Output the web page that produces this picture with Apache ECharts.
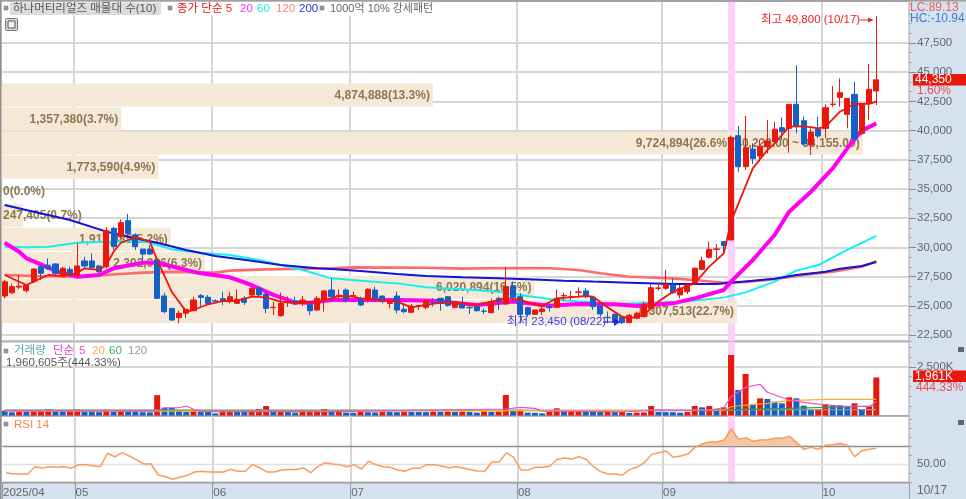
<!DOCTYPE html>
<html><head><meta charset="utf-8">
<style>html,body{margin:0;padding:0;background:#fff}#c{width:966px;height:499px}</style>
<script src="https://cdn.jsdelivr.net/npm/echarts@6/dist/echarts.min.js"></script>
</head><body><div id="c"></div>
<script>
const dates=['04/17','04/18','04/21','04/22','04/23','04/24','04/25','04/28','04/29','04/30',
'05/02','05/07','05/08','05/09','05/12','05/13','05/14','05/15','05/16','05/19','05/20','05/21','05/22','05/23','05/26','05/27','05/28','05/29','05/30',
'06/02','06/04','06/05','06/09','06/10','06/11','06/12','06/13','06/16','06/17','06/18','06/19','06/20','06/23','06/24','06/25','06/26','06/27','06/30',
'07/01','07/02','07/03','07/04','07/07','07/08','07/09','07/10','07/11','07/14','07/15','07/16','07/17','07/18','07/21','07/22','07/23','07/24','07/25','07/28','07/29','07/30','07/31',
'08/01','08/04','08/05','08/06','08/07','08/08','08/11','08/12','08/13','08/14','08/18','08/19','08/20','08/21','08/22','08/25','08/26','08/27','08/28','08/29',
'09/01','09/02','09/03','09/04','09/05','09/08','09/09','09/10','09/11','09/12','09/15','09/16','09/17','09/18','09/19','09/22','09/23','09/24','09/25','09/26','09/29','09/30',
'10/01','10/02','10/10','10/13','10/14','10/15','10/16','10/17','','','',''];
const monthLabels={0:'2025/04',10:'05',29:'06',48:'07',71:'08',91:'09',113:'10'};
const opens=[25840,26120,26600,26300,27070,28350,28470,28580,27500,28120,27610,28840,28840,28410,28350,31630,30920,32290,31060,29860,29860,28920,25840,24780,23990,24360,24580,25870,25730,25440,25610,25360,25210,25640,25930,26500,26010,24840,24160,25300,25410,25210,25130,24640,25500,26350,25880,26350,25840,25640,25560,26350,25840,25200,25840,24700,24440,24980,24870,25280,25640,25780,24870,25210,24850,24930,24540,24410,25640,25160,26700,25780,24840,24270,24500,24950,24870,25850,25720,26150,26270,25730,24980,24010,24270,24070,23560,23930,24070,24780,26490,26500,26780,25930,26210,26920,28120,29150,29830,30490,30630,39560,36910,38420,37820,38620,39050,40250,40190,42250,40850,38770,40110,40190,42230,42850,41390,43100,39760,42330,43390];
const closes=[27060,26640,26680,26780,28150,27780,28180,27780,28210,27610,28410,28410,28290,27920,31430,30060,32120,31200,30060,29430,29430,25640,24500,23780,24360,24700,25500,25720,25210,25400,25410,25780,25560,25300,26500,25930,24780,24880,25210,25360,25150,25500,24580,25640,26270,25780,25900,25500,25880,25070,26410,25640,25360,25300,24640,24500,24980,25020,25440,25250,25210,25040,25210,24810,24830,24580,24520,25360,25360,26640,25730,24270,24270,24640,24730,24840,25640,25880,25760,26190,25840,24930,24300,23980,23560,23560,24190,24360,25070,26550,26530,26840,26120,26500,26780,28210,28860,29830,29870,30150,39420,36910,38540,37600,38620,39110,40110,39910,42250,40340,38850,39880,39540,41960,42270,43240,42760,39340,42250,43530,44350];
const lows=[25640,26000,26410,26130,26920,27210,28060,27550,27440,27490,27350,28290,28070,27780,28210,29780,30770,31060,29780,28920,29350,25550,24360,23730,23500,23930,24580,24930,25070,25300,25070,25210,25150,25070,25840,25780,24360,24210,24070,24900,25070,24980,24210,24580,24500,25360,25360,25270,25780,24980,25270,25360,25210,24780,24360,24360,24410,24640,24700,24930,24590,24930,24780,24780,24300,24500,24300,24360,24640,25070,25440,23500,24070,24210,24210,24500,24870,25440,25500,25640,25640,24640,24070,23500,23500,23450,23500,23850,24010,24640,26300,26350,26010,25640,26010,26870,28060,29060,29010,29350,30630,36480,36620,37140,37340,38050,38910,39190,38110,39760,38740,37910,39340,39340,42050,42050,40190,39190,39620,40900,42190];
const highs=[27200,26900,27640,26780,28210,28490,29060,28640,28350,28350,30350,29200,29490,28490,31720,31780,32400,32860,31200,29860,30200,29200,26120,24780,24590,24700,25780,26010,25930,25560,26210,26210,26410,25840,26640,26640,26210,25360,26120,25800,25780,25840,25360,25840,26350,27350,26410,26500,26210,25780,26500,26640,25840,25500,26210,25210,25160,25070,25550,25640,25640,25840,25360,25780,25070,25210,24780,25640,25780,28290,27070,26070,24930,24640,25070,25210,26410,26120,26270,26580,26500,25840,25070,24500,24360,24180,24300,24500,25360,26870,26980,28070,27350,26780,26920,28300,29200,30490,30290,30550,39560,40390,41250,38910,39190,40900,40760,41130,42250,45580,41190,40190,41190,42250,43820,44470,42760,44190,42250,45700,49800];
const ma5=[[0,27640],[3,26780],[6,27640],[8,27550],[10,27800],[11,28210],[13,28070],[14,28490],[15,29630],[16,30400],[18,30860],[20,30490],[21,28920],[23,26210],[25,24500],[26,24640],[28,25130],[30,25410],[32,25410],[34,25780],[36,25720],[38,25360],[40,25210],[43,25360],[45,25640],[46,25840],[48,25780],[49,25640],[54,25360],[56,24870],[58,25070],[61,25360],[65,25070],[69,25640],[71,25550],[72,25270],[74,24980],[76,25640],[79,25780],[80,25840],[81,25780],[83,24870],[85,24070],[86,23930],[88,24210],[90,25360],[92,26210],[95,26920],[97,28350],[99,29490],[100,32200],[103,36770],[105,38340],[106,38910],[108,40340],[110,40390],[112,40190],[113,40340],[115,41620],[117,42280],[119,42280],[120,42480]];
const ma20=[[0,30400],[2,29630],[3,29060],[5,28550],[7,27980],[10,27490],[13,27640],[15,28210],[19,28690],[21,28690],[24,28210],[27,27780],[31,27440],[34,26780],[37,25930],[40,25300],[42,25270],[45,25500],[54,25500],[59,25440],[65,25070],[70,25360],[75,25010],[79,25160],[84,25130],[87,24980],[92,25210],[95,25640],[99,26350],[100,27070],[103,28920],[106,31060],[108,33060],[111,34770],[114,36770],[116,38480],[118,40000],[120,40620]];
const ma60=[[0,30060],[3,30010],[6,30060],[10,30400],[14,30490],[18,30550],[20,30400],[23,29830],[27,29550],[31,29350],[35,28920],[38,28500],[41,28070],[45,27350],[49,27150],[54,26920],[58,26580],[63,26410],[68,26210],[72,25840],[75,25580],[79,25360],[84,25160],[87,25210],[93,25330],[99,25700],[102,26150],[106,27070],[109,28010],[112,28490],[116,29780],[120,30980]];
const ma120=[[0,27640],[4,27550],[10,27490],[14,27640],[19,27840],[23,27920],[29,27840],[31,28010],[36,28120],[45,28210],[48,28290],[58,28260],[63,28180],[69,28240],[75,28210],[79,28070],[82,27780],[86,27490],[88,27440],[92,27350],[96,27150],[99,26980],[102,27040],[106,27270],[110,27640],[114,27920],[118,28350],[120,28810]];
const ma200=[[0,33630],[4,33060],[9,32350],[14,31350],[18,30780],[21,30400],[25,29780],[29,29260],[34,28860],[38,28490],[43,28210],[45,28150],[49,27980],[54,27720],[58,27550],[63,27440],[68,27350],[72,27270],[77,27150],[81,27070],[86,26980],[92,26870],[98,26870],[100,26980],[106,27320],[109,27640],[113,27920],[115,28180],[118,28410],[120,28750]];
const volume=[250,165,230,200,240,245,320,220,210,235,310,200,190,170,300,190,230,210,205,170,160,1050,400,395,250,180,240,200,180,110,215,220,210,205,250,335,490,215,220,210,150,215,220,225,335,230,235,150,145,210,170,160,200,190,170,205,185,180,175,200,190,205,190,200,190,150,210,190,205,1057,290,300,150,140,110,180,370,210,220,225,215,200,190,215,195,200,130,150,160,490,180,175,170,145,180,490,420,490,335,420,3118,1314,2139,540,885,850,713,627,936,885,507,300,318,576,524,520,455,627,335,455,1961];
const volMa5=[[0,240],[21,230],[22,400],[24,400],[25,490],[26,320],[27,200],[45,200],[69,335],[71,420],[73,370],[74,230],[80,215],[85,180],[90,285],[93,265],[97,280],[99,400],[100,970],[102,1450],[104,1610],[105,1200],[107,930],[108,800],[111,630],[115,490],[119,455],[120,710]];
const volMa20=[[0,230],[45,230],[99,280],[100,450],[102,540],[105,630],[108,770],[113,830],[120,830]];
const volMa60=[[0,265],[50,265],[90,255],[99,260],[102,315],[108,370],[120,490]];
const volMa120=[[0,275],[90,270],[120,300]];
const rsi=[40.4,38.9,38.9,38.9,47,45.6,47,46.3,47,45.2,49.3,49.3,48,47,61.9,58,62.6,58.9,54.5,50,50,37.8,35.9,33,35.2,37.4,41.1,41.9,41.1,41,41.1,44,41.9,41.9,49.6,45.6,41.1,41.1,43.3,44,44,45.6,40.4,47,51.5,50,49.3,47,49.3,44.4,53,49.3,47,46.3,43.3,41.9,45.2,45.2,49.3,49.3,47.8,45.9,47,45.6,44,42.2,41.9,52.2,52.2,62.6,57.4,43.3,43.3,46.3,46.3,47.8,55.2,56.7,55.6,58,55,47,41.5,38.9,38.9,37.8,44,46.3,51.5,60.7,62.6,64.4,57.4,58.9,61,68.5,72.2,74.4,74.4,76.7,88.9,77.4,79.3,75.2,76.7,77,78.5,78.5,81,73.7,66.3,68.5,66.3,70.7,71.5,73,70.7,58,64.8,66.3,67.4];
const profileEdges=[44040,41980,39920,37860,35800,33740,31680,29620,27560,25500,23450];
const profileVolumes=[4874888,1357380,9724894,1773590,0,247405,1916485,2302966,6020894,8307513];
const profilePercents=['13.3','3.7','26.6','4.9','0.0','0.7','5.2','6.3','16.5','22.7'];
const profileExtra=['','','(40,220.00 ~ 38,155.00)','','','','','','',''];
const priceTicks=[22500,25000,27500,30000,32500,35000,37500,40000,42500,45000,47500];
const priceMinorTicks=[23333,24167,25833,26667,28333,29167,30833,31667,33333,34167,35833,36667,38333,39167,40833,41667,43333,44167,45833,46667,48333,49167,50000,50833,22000];
const volMinorTicks=[500,1000,1500,2000,3000,3500];
const rsiMinorTicks=[30,40,60,70,80,90,100];
const highlightDay='09/12';
const monthStarts=[10,29,48,71,91,113];

const FONT="'Liberation Sans','Noto Sans CJK KR',sans-serif";
const UP='#e8190c',DOWN='#1560c8',GRID='#d6d6d6',AX='#999',LBL='#666',PANEL='#d6e1ef',BORDER='#a8a8a8';
const isMonth=i=>monthStarts.includes(i);
const candles=opens.map((o,i)=>[o,closes[i],lows[i],highs[i]]);
const volData=volume.map((v,i)=>({value:v,itemStyle:{color:(i>0&&v>=volume[i-1])?UP:DOWN}}));
const profileData=profileVolumes.map((v,i)=>[v,profileEdges[i],profileEdges[i+1],i]);
const monthEdges=monthStarts.map(i=>({xAxis:i-0.5}));

function xAx(idx,show){return {type:'category',gridIndex:idx,data:dates,boundaryGap:true,
  axisLine:{show:false,onZero:false},
  axisTick:{show:show,interval:(i)=>i===0||isMonth(i),length:16,lineStyle:{color:AX}},
  axisLabel:{show:show,interval:(i)=>i===0||isMonth(i),formatter:(v,i)=>monthLabels[i]||'',color:LBL,fontFamily:FONT,fontSize:11.5,align:'left',margin:4,padding:[0,0,0,-3]},
  splitLine:{show:false}};}
const bandAx=g=>({type:'value',gridIndex:g,min:-0.5,max:124.5,show:false,axisLine:{onZero:false},splitLine:{show:false}});
function rules(xi,yi,items){return {type:'line',xAxisIndex:xi,yAxisIndex:yi,data:[],silent:true,z:1,
  markLine:{silent:true,symbol:'none',z:1,animation:false,label:{show:false},lineStyle:{color:GRID,width:2,type:'solid'},data:items}};}
function hl(xi,yi){return {type:'line',xAxisIndex:xi,yAxisIndex:yi,data:[],silent:true,z:1,
  markLine:{silent:true,symbol:'none',z:1,animation:false,label:{show:false},lineStyle:{color:'#fcd0fb',width:7,type:'solid'},data:[{xAxis:highlightDay}]}};}
function ln(data,color,width,xi,yi,z){return {type:'line',xAxisIndex:xi,yAxisIndex:yi,data,showSymbol:false,symbol:'none',smooth:false,z:z||5,silent:true,lineStyle:{color,width},itemStyle:{color}};}
const txt=(x,y,s,fill,extra)=>({type:'text',z:100,x,y,style:Object.assign({text:s,fill,font:'11.5px '+FONT,textVerticalAlign:'middle'},extra||{})});
const sq=(x,y)=>({type:'rect',z:100,shape:{x,y,width:4,height:4},style:{fill:'#9a9a9a',stroke:'#777',lineWidth:0.5}});
const rect=(x,y,w,h,fill,z)=>({type:'rect',z:z||99,shape:{x,y,width:w,height:h},style:{fill}});
const pane=(y,h)=>({type:'rect',z:-1,silent:true,shape:{x:1,y,width:908,height:h},style:{fill:'#fff',stroke:BORDER,lineWidth:1}});

const option={
 animation:false,backgroundColor:PANEL,
 grid:[
  {left:1,width:908,top:2.12,height:338.72},
  {left:1,width:908,top:342,height:73.5},
  {left:1,width:908,top:416.3,height:66.6}
 ],
 xAxis:[xAx(0,false),xAx(1,false),xAx(2,true),
  {type:'value',gridIndex:0,min:0,max:10248000,show:false,axisLine:{onZero:false},splitLine:{show:false}},
  bandAx(0),bandAx(1),bandAx(2)],
 yAxis:[
  {type:'value',gridIndex:0,position:'right',min:22000,max:51000,
   axisLine:{show:false,onZero:false},
   axisTick:{show:true,customValues:priceTicks,length:7,lineStyle:{color:'#888'}},
   axisLabel:{show:true,customValues:priceTicks,formatter:v=>v.toLocaleString('en-US'),color:LBL,fontFamily:FONT,fontSize:11.5,margin:8},
   splitLine:{show:false}},
  {type:'value',gridIndex:0,position:'right',min:22000,max:51000,axisLine:{show:false,onZero:false},
   axisTick:{show:true,customValues:priceMinorTicks,length:3,lineStyle:{color:'#aaa'}},axisLabel:{show:false},splitLine:{show:false}},
  {type:'value',gridIndex:1,position:'right',min:0,max:3790,
   axisLine:{show:false,onZero:false},
   axisTick:{show:true,customValues:[2500],length:7,lineStyle:{color:'#888'}},
   axisLabel:{show:true,customValues:[2500],formatter:v=>'2,500K',color:LBL,fontFamily:FONT,fontSize:11.5,margin:8},
   splitLine:{show:false}},
  {type:'value',gridIndex:1,position:'right',min:0,max:3790,axisLine:{show:false,onZero:false},
   axisTick:{show:true,customValues:volMinorTicks,length:3,lineStyle:{color:'#aaa'}},axisLabel:{show:false},splitLine:{show:false}},
  {type:'value',gridIndex:2,position:'right',min:29,max:103,
   axisLine:{show:false,onZero:false},
   axisTick:{show:true,customValues:rsiMinorTicks,length:3,lineStyle:{color:'#aaa'}},
   axisLabel:{show:true,customValues:[50],formatter:v=>'50.00',color:LBL,fontFamily:FONT,fontSize:11.5,margin:8},
   splitLine:{show:false}}
 ],
 series:[
  rules(4,0,monthEdges.concat(priceTicks.map(v=>({yAxis:v})))),
  rules(5,2,monthEdges.concat([{yAxis:2500}])),
  rules(6,4,monthEdges),
  hl(0,0),hl(1,2),hl(2,4),
  {type:'custom',xAxisIndex:3,yAxisIndex:0,coordinateSystem:'cartesian2d',data:profileData,z:2,silent:true,clip:false,
   encode:{x:0,y:[1,2]},
   renderItem:(params,api)=>{
     const v=api.value(0),hi=api.coord([v,api.value(1)]),lo=api.coord([v,api.value(2)]),base=api.coord([0,api.value(1)]);
     const i=api.value(3);
     const label=v.toLocaleString('en-US')+'('+profilePercents[i]+'%)'+profileExtra[i];
     const left=hi[0]<60;
     return {type:'group',children:[
       {type:'rect',shape:{x:base[0],y:hi[1],width:hi[0]-base[0],height:lo[1]-hi[1]-1},style:{fill:'#f5e8d7'}},
       {type:'text',z2:2,style:{x:left?3:hi[0]-3,y:(hi[1]+lo[1])/2,text:label,fill:'#8d7750',font:'bold 12px '+FONT,textAlign:left?'left':'right',textVerticalAlign:'middle'}}
     ]};
   }},
  ln(ma120,'#ff6b6b',2.6,0,0,5),
  ln(ma60,'#12f0f0',2,0,0,5),
  ln(ma200,'#1212d8',2,0,0,6),
  ln(ma20,'#ff00f0',4,0,0,7),
  {type:'candlestick',xAxisIndex:0,yAxisIndex:0,data:candles,barWidth:5.6,z:8,silent:true,
   itemStyle:{color:UP,color0:DOWN,borderColor:UP,borderColor0:DOWN,borderWidth:1}},
  ln(ma5,'#f2140c',1.8,0,0,9),
  {type:'bar',xAxisIndex:1,yAxisIndex:2,data:volData,barWidth:6,z:3,silent:true},
  ln(volMa120,'#999999',1.2,1,2,4),
  ln(volMa60,'#2aa04a',1.2,1,2,5),
  ln(volMa20,'#f5b030',1.2,1,2,5),
  ln(volMa5,'#e850d0',1.2,1,2,6),
  {type:'line',xAxisIndex:2,yAxisIndex:4,data:rsi.map(v=>v>70?v:70),symbol:'none',silent:true,z:4,lineStyle:{width:0},areaStyle:{origin:70,color:'#f7c7a5',opacity:1}},
  {type:'line',xAxisIndex:2,yAxisIndex:4,data:[],silent:true,z:2,markLine:{silent:true,symbol:'none',z:2,animation:false,label:{show:false},
    data:[{yAxis:30,lineStyle:{color:'#9a9a9a',width:1.4,type:'solid'}},{yAxis:50,lineStyle:{color:'#e0e0e0',width:1.4,type:'solid'}},{yAxis:70,lineStyle:{color:'#8e8e8e',width:1.4,type:'solid'}}]}},
  ln(rsi,'#f89c5c',1.5,2,4,6)
 ],
 graphic:[
  pane(1.5,339.34),pane(342,73.5),pane(416.3,66.6),
  rect(0,0,966,1.5,'#a0a0a0',101),
  rect(0,0,1.5,499,'#909090',101),
  rect(1.5,1.5,432,14,'#ffffff',98),
  rect(10,2.5,151,12.5,'#dcdcdc'),
  sq(4,6),txt(13,9,'하나머티리얼즈 매물대 수(10)','#555'),
  sq(168,6),txt(177,9,'종가 단순 5','#f01818'),
  txt(240,9,'20','#ff30f0'),txt(257,9,'60','#20e8e8'),txt(276,9,'120','#ff8080'),txt(299,9,'200','#3030e0'),
  sq(320,6),txt(330,9,'1000억 10% 강세패턴','#666',{font:'11px '+FONT}),
  {type:'rect',z:100,shape:{x:5.5,y:18.5,width:12,height:12,r:1},style:{fill:'#d8d8d8',stroke:'#777',lineWidth:1}},
  {type:'rect',z:101,shape:{x:8,y:21,width:7,height:7},style:{fill:'#f4f4f4',stroke:'#555',lineWidth:1}},
  txt(910,7.5,'LC:89.13','#e86060',{font:'12px '+FONT}),
  txt(910,18.5,'HC:-10.94','#3a80d8',{font:'12px '+FONT}),
  rect(913,74,53,11.5,UP),txt(915,80,'44,350','#fff',{font:'12px '+FONT}),
  txt(917,91,'1.60%','#e85050',{font:'12px '+FONT}),
  rect(913,370.5,53,11.5,UP),txt(915,376.5,'1,961K','#fff',{font:'12px '+FONT}),
  txt(916,388,'444.33%','#e85050',{font:'12px '+FONT}),
  txt(917,491,'10/17',LBL,{font:'12px '+FONT}),
  rect(958,347,6,5,'#666'),rect(958,420,6,5,'#666'),
  sq(4,349),
  txt(14,351,'거래량','#58a8a8'),txt(53,351,'단순','#e040d0'),txt(79,351,'5','#e850c8'),txt(92,351,'20','#f5b040'),txt(109,351,'60','#3cb060'),txt(128,351,'120','#999'),
  txt(6,362.5,'1,960,605주(444.33%)','#555'),
  sq(4,422),txt(14,424.5,'RSI 14','#f08848'),
  txt(761,20,'최고 49,800 (10/17)','#f02020'),
  {type:'line',z:100,shape:{x1:860,y1:20,x2:873,y2:20},style:{stroke:'#f02020',lineWidth:1}},
  {type:'polygon',z:100,shape:{points:[[873,20],[868,17.5],[868,22.5]]},style:{fill:'#f02020'}},
  txt(507,322,'최저 23,450 (08/22)','#3c3ce0'),
  {type:'line',z:100,shape:{x1:603,y1:322,x2:618,y2:322},style:{stroke:'#2020e0',lineWidth:1}},
  {type:'polygon',z:100,shape:{points:[[620,322],[614,318],[614,326]]},style:{fill:'#2020e0'}}
 ]
};
const chart=echarts.init(document.getElementById('c'),null,{renderer:'canvas'});
chart.setOption(option);
</script></body></html>
